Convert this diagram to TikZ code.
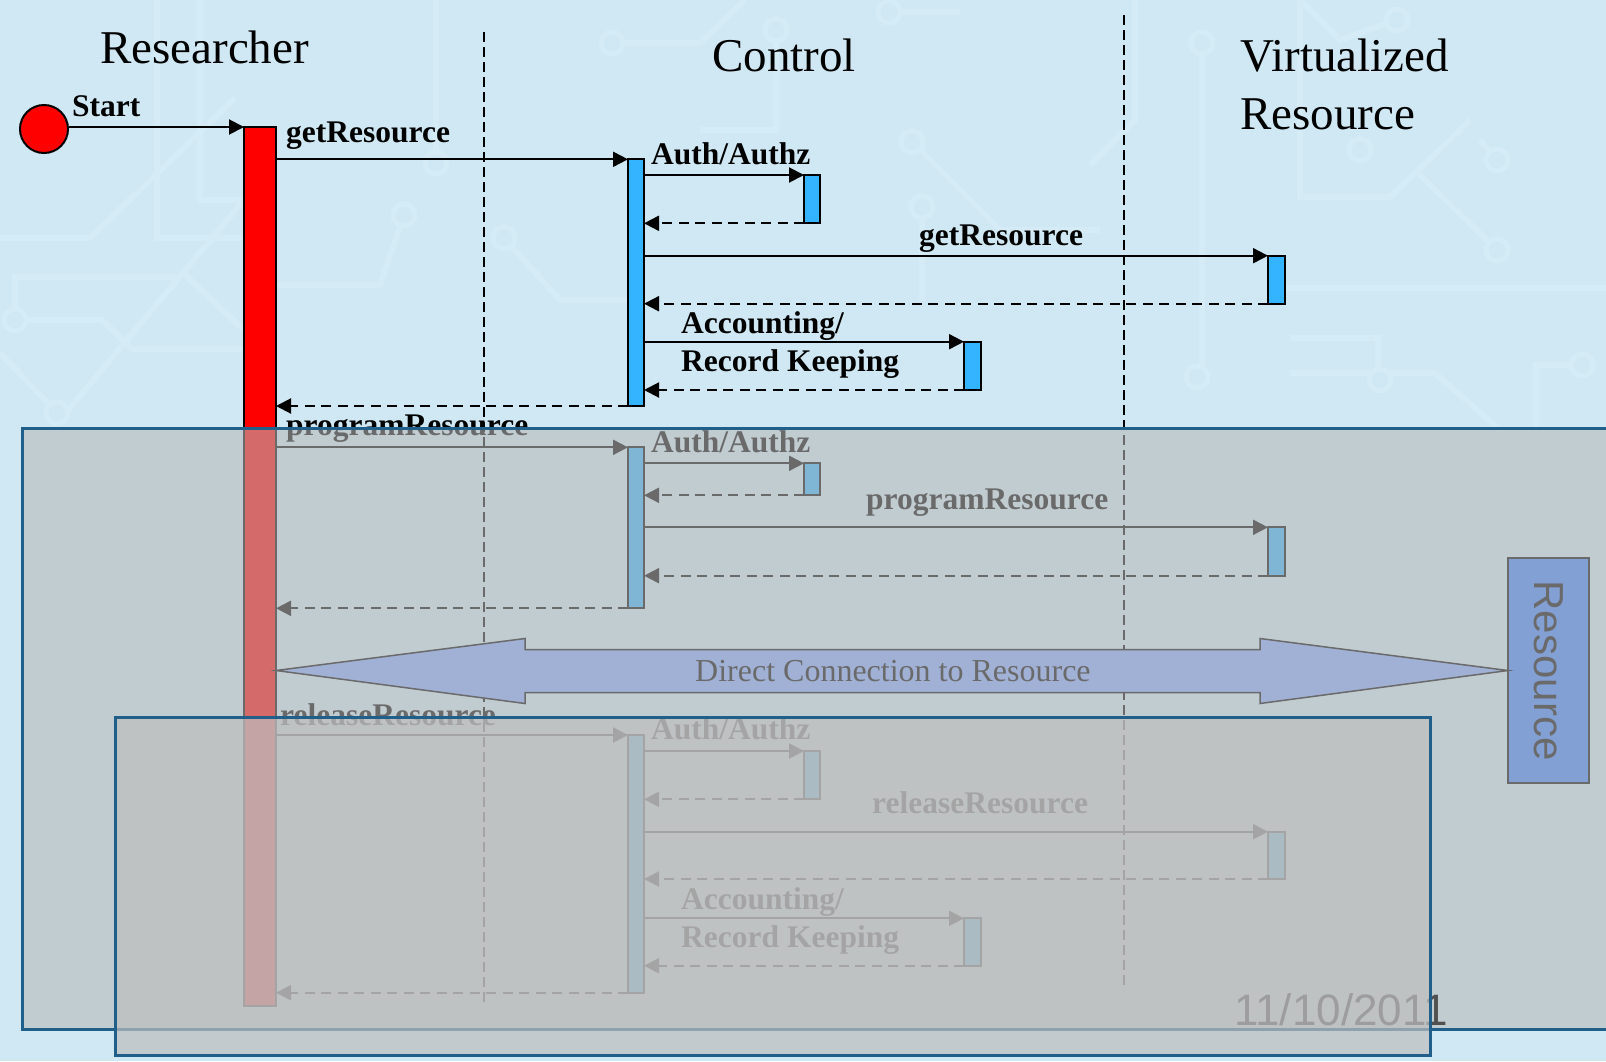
\documentclass[tikz,border=0pt]{standalone}
\usepackage{fontspec}
\setmainfont{Liberation Serif}
\newfontfamily\sansfam{Liberation Sans}
\usetikzlibrary{arrows.meta,calc}

\definecolor{slidebg}{HTML}{CFE8F3}
\definecolor{tracecol}{HTML}{D5ECF6}
\definecolor{ctrlblue}{HTML}{34B4FF}
\definecolor{paneledge}{HTML}{1F5F8A}
\definecolor{panelgray}{HTML}{B8B8B8}
\definecolor{panelgrayb}{HTML}{BEBEBE}
\definecolor{linkfill}{HTML}{80A8FF}
\definecolor{resfill}{HTML}{3A7FFF}
\definecolor{datecol}{HTML}{505050}

\begin{document}
\begin{tikzpicture}[x=1pt,y=-1pt,
  lifebar/.style={draw=black,line width=2pt,inner sep=0pt,outer sep=0pt,
    anchor=north west,minimum width=16pt},
  redbar/.style={lifebar,fill=red,minimum width=32pt},
  bluebar/.style={lifebar,fill=ctrlblue},
  msg/.style={line width=2pt,-{Triangle[length=15pt,width=15pt]}},
  reply/.style={msg,dash pattern=on 10pt off 6.5pt},
  lane/.style={line width=2pt,dash pattern=on 10pt off 5pt},
  msglabel/.style={anchor=base west,inner sep=0pt,
    font=\fontsize{31.5}{36}\selectfont\bfseries},
  heading/.style={anchor=base west,inner sep=0pt,font=\fontsize{47}{57}\selectfont},
  trace/.style={draw=tracecol,line width=6pt},
  ring/.style={draw=tracecol,line width=5pt,fill=slidebg},
  panelA/.style={draw=paneledge,line width=3pt,fill=panelgray,fill opacity=0.58},
  panelB/.style={draw=paneledge,line width=3pt,fill=panelgrayb,fill opacity=0.7},
]
\clip (0,0) rectangle (1606,1061);
\fill[slidebg] (0,0) rectangle (1606,1061);

% faint circuit-board traces in the slide background
\path[trace] (0,238) -- (90,238) -- (192,140) -- (235,98);
\path[trace] (157,0) -- (157,238) -- (244,238);
\path[trace] (200,0) -- (200,200) -- (244,200);
\path[trace] (15,309) -- (15,277) -- (180,277);
\path[trace] (244,200) -- (60,420);
\path[trace] (26,320) -- (102,320) -- (132,349) -- (244,349);
\path[trace] (0,353) -- (50,405);
\path[trace] (183,273) -- (244,330);
\path[trace] (276,285) -- (380,285) -- (404,215);
\path[trace] (436,163) -- (436,0);
\path[trace] (504,238) -- (560,300) -- (628,300);
\path[trace] (612,43) -- (700,43) -- (745,0);
\path[trace] (776,30) -- (776,130) -- (700,130);
\path[trace] (889,12) -- (960,12);
\path[trace] (912,142) -- (1000,230) -- (1100,230);
\path[trace] (922,207) -- (922,300);
\path[trace] (1202,43) -- (1202,377);
\path[trace] (1135,0) -- (1135,120) -- (1090,165);
\path[trace] (1300,0) -- (1300,197) -- (1390,197) -- (1450,140) -- (1470,120);
\path[trace] (1417,172) -- (1497,250);
\path[trace] (1480,140) -- (1497,160);
\path[trace] (1284,288) -- (1606,288);
\path[trace] (1290,338) -- (1378,338) -- (1378,373);
\path[trace] (1290,373) -- (1435,373) -- (1500,430);
\path[trace] (1536,430) -- (1536,365) -- (1582,365);
\path[trace] (1300,0) -- (1340,40) -- (1397,20);
\foreach \p in {(15,320),(57,413),(404,215),(436,163),(504,238),(612,43),
  (776,30),(889,12),(912,142),(922,207),(1202,43),(1197,377),(1360,150),
  (1397,20),(1497,160),(1497,250),(1380,380),(1582,365)}
  \path[ring] \p circle[radius=11];

% swimlane separators
\coordinate (laneAtop) at (484,32);
\coordinate (laneAbot) at (484,1005);
\coordinate (laneBtop) at (1124,15);
\coordinate (laneBbot) at (1124,990);
\draw[lane] (laneAtop) -- (laneAbot);
\draw[lane] (laneBtop) -- (laneBbot);

% lane headings
\node[heading] (hres) at (100,63) {Researcher};
\node[heading] (hctl) at (712,71.7) {Control};
\node[heading] (hvr1) at (1240,71.7) {Virtualized};
\node[heading] (hvr2) at (1240,129.3) {Resource};

% start and researcher activation
\node[circle,draw=black,line width=2pt,fill=red,minimum size=48pt,inner sep=0pt]
  (st) at (44,129) {};
\node[msglabel] (lstart) at (72,116.7) {Start};
\node[redbar,minimum height=879pt] (res) at (244,127) {};
\draw[msg] (st.east |- res.north west) -- (res.north west);

% ---- getResource ----
\node[bluebar,minimum height=246.7pt] (cA) at (628,159.3) {};
\node[bluebar,minimum height=48.3pt] (aA) at (804,175) {};
\node[bluebar,minimum width=16.5pt,minimum height=48pt] (vA) at (1268,255.7) {};
\node[bluebar,minimum width=16.5pt,minimum height=48.3pt] (kA) at (964,341.7) {};
\node[msglabel] (lA1) at (286,142.7) {getResource};
\node[msglabel] (lA2) at (651,164.3) {Auth/Authz};
\node[msglabel] (lA3) at (919,245) {getResource};
\node[msglabel] (lA4) at (681,333) {Accounting/};
\node[msglabel] (lA5) at (681,371) {Record Keeping};
\draw[msg] (res.east |- cA.north west) -- (cA.north west);
\draw[msg] (cA.east |- aA.north west) -- (aA.north west);
\draw[reply] (aA.south west) -- (cA.east |- aA.south west);
\draw[msg] (cA.east |- vA.north west) -- (vA.north west);
\draw[reply] (vA.south west) -- (cA.east |- vA.south west);
\draw[msg] (cA.east |- kA.north west) -- (kA.north west);
\draw[reply] (kA.south west) -- (cA.east |- kA.south west);
\draw[reply] (cA.south west) -- (res.east |- cA.south west);

% ---- programResource ----
\node[bluebar,minimum height=161pt] (cB) at (628,447.3) {};
\node[bluebar,minimum height=32pt] (aB) at (804,463.3) {};
\node[bluebar,minimum width=16.5pt,minimum height=48.4pt] (vB) at (1268,527.3) {};
\node[msglabel] (lB1) at (286,435) {programResource};
\node[msglabel] (lB2) at (651,452.3) {Auth/Authz};
\node[msglabel] (lB3) at (866,509.3) {programResource};
\draw[msg] (res.east |- cB.north west) -- (cB.north west);
\draw[msg] (cB.east |- aB.north west) -- (aB.north west);
\draw[reply] (aB.south west) -- (cB.east |- aB.south west);
\draw[msg] (cB.east |- vB.north west) -- (vB.north west);
\draw[reply] (vB.south west) -- (cB.east |- vB.south west);
\draw[reply] (cB.south west) -- (res.east |- cB.south west);

% ---- direct link to the resource ----
\node[draw=black,line width=1.5pt,fill=resfill,inner sep=0pt,outer sep=0pt,
  anchor=north west,minimum width=81pt,minimum height=225pt] (rbox) at (1508,558) {};
\node[rotate=-90,inner sep=0pt,font=\sansfam\fontsize{42}{50}\selectfont]
  (rtxt) at (rbox.center) {Resource};
\coordinate (linkL) at (res.east |- rbox.west);
\coordinate (linkR) at (rbox.west);
\draw[line width=1.5pt,fill=linkfill]
  (linkL) -- ($(linkL)+(249,-32)$) -- ($(linkL)+(249,-21)$)
  -- ($(linkR)+(-248,-21)$) -- ($(linkR)+(-248,-32)$) -- (linkR)
  -- ($(linkR)+(-248,33)$) -- ($(linkR)+(-248,22)$)
  -- ($(linkL)+(249,22)$) -- ($(linkL)+(249,33)$) -- cycle;
\node[anchor=base west,inner sep=0pt,font=\fontsize{32}{38}\selectfont]
  (llink) at (695,681.7) {Direct Connection to Resource};

% ---- releaseResource ----
\node[bluebar,minimum height=257.7pt] (cC) at (628,735) {};
\node[bluebar,minimum height=48.3pt] (aC) at (804,751) {};
\node[bluebar,minimum width=16.5pt,minimum height=47.3pt] (vC) at (1268,831.7) {};
\node[bluebar,minimum width=16.5pt,minimum height=47.4pt] (kC) at (964,918.3) {};
\node[msglabel] (lC1) at (280,725) {releaseResource};
\node[msglabel] (lC2) at (651,739.3) {Auth/Authz};
\node[msglabel] (lC3) at (872,813.3) {releaseResource};
\node[msglabel] (lC4) at (681,909.6) {Accounting/};
\node[msglabel] (lC5) at (681,947.6) {Record Keeping};
\draw[msg] (res.east |- cC.north west) -- (cC.north west);
\draw[msg] (cC.east |- aC.north west) -- (aC.north west);
\draw[reply] (aC.south west) -- (cC.east |- aC.south west);
\draw[msg] (cC.east |- vC.north west) -- (vC.north west);
\draw[reply] (vC.south west) -- (cC.east |- vC.south west);
\draw[msg] (cC.east |- kC.north west) -- (kC.north west);
\draw[reply] (kC.south west) -- (cC.east |- kC.south west);
\draw[reply] (cC.south west) -- (res.east |- cC.south west);

% translucent panels laid over the later steps
\draw[panelA] (22,428) rectangle (1625,1029);
\node[anchor=base west,inner sep=0pt,font=\sansfam\fontsize{44}{50}\selectfont,
  text=datecol] (date) at (1234,1025) {11/10/2011};
\draw[panelB] (115,717) rectangle (1430,1055);
\end{tikzpicture}
\end{document}
